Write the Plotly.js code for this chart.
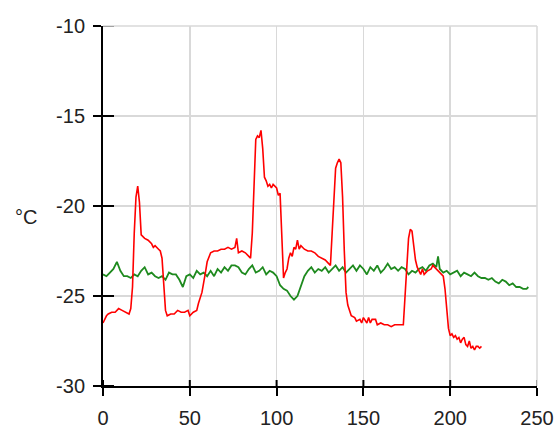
<!DOCTYPE html>
<html>
<head>
<meta charset="utf-8">
<script src="https://cdn.plot.ly/plotly-3.0.1.min.js"></script>
<style>html,body{margin:0;padding:0;background:#fff;}#chart{width:557px;height:429px;}</style>
</head>
<body>
<div id="chart"></div>
<script>
// Red series (time, temperature °C)
const redX = [0,1,2,3,5,7,9,11,13,15,16,17,18,19,20,21,22,24,26,28,29,30,32,33,34,35,36,37,39,41,43,45,47,49,50,52,54,55,57,59,60,62,64,66,68,70,72,74,76,77,78,80,82,84,85,86,87,88,89,90,91,92,93,94,95,96,97,98,100,101,102,103,104,105,106,107,108,109,110,111,112,113,114,116,118,120,122,124,126,128,130,131,132,133,134,135,136,137,138,139,140,141,142,143,145,146,148,149,150,152,153,154,155,157,158,160,162,164,166,168,170,172,173,174,175,176,177,178,179,180,181,182,183,184,185,187,189,190,191,193,195,196,197,198,199,200,201,202,203,204,205,206,207,208,209,210,211,212,213,214,215,216,217,218];
const redY = [-26.5,-26.3,-26.1,-26.0,-25.9,-25.9,-25.7,-25.8,-25.9,-26.0,-25.7,-24.5,-21.5,-19.5,-18.9,-19.8,-21.6,-21.8,-21.9,-22.1,-22.3,-22.2,-22.4,-22.5,-22.9,-24.2,-25.8,-26.1,-26.0,-26.0,-25.8,-25.9,-25.9,-25.8,-26.1,-25.9,-25.8,-25.4,-24.8,-23.7,-23.1,-22.6,-22.5,-22.5,-22.4,-22.4,-22.3,-22.4,-22.3,-21.8,-22.6,-22.5,-22.6,-22.8,-22.9,-21.5,-18.5,-16.3,-16.1,-16.2,-15.8,-16.8,-18.4,-18.6,-18.9,-18.8,-19.0,-18.8,-19.0,-19.4,-19.3,-22.0,-24.0,-23.7,-23.5,-22.9,-22.6,-22.8,-22.3,-22.4,-21.9,-22.4,-22.2,-22.4,-22.5,-22.5,-22.6,-22.8,-22.9,-23.0,-23.2,-23.3,-21.5,-19.5,-17.9,-17.6,-17.4,-17.6,-19.5,-22.5,-24.8,-25.5,-25.8,-26.1,-26.2,-26.4,-26.3,-26.5,-26.2,-26.5,-26.2,-26.5,-26.3,-26.3,-26.6,-26.5,-26.6,-26.6,-26.7,-26.6,-26.6,-26.6,-26.6,-25.0,-23.0,-21.8,-21.3,-21.4,-22.2,-23.0,-23.4,-23.6,-23.8,-23.5,-23.8,-23.6,-23.5,-23.3,-23.4,-23.6,-23.8,-23.9,-24.6,-25.8,-26.8,-27.2,-27.1,-27.3,-27.2,-27.4,-27.3,-27.6,-27.4,-27.3,-27.7,-27.8,-27.5,-27.9,-27.8,-28.0,-27.8,-27.8,-27.9,-27.8];

// Green series
const greenX = [0,2,4,6,8,10,12,14,16,18,20,22,24,26,28,30,32,34,36,38,40,42,44,46,48,50,52,54,56,58,60,62,64,66,68,70,72,74,76,78,80,82,84,86,88,90,92,94,96,98,100,102,104,106,108,110,112,114,116,118,120,122,124,126,128,130,132,134,136,138,140,142,144,146,148,150,152,154,156,158,160,162,164,166,168,170,172,174,176,178,180,182,184,186,188,190,192,193,194,196,198,200,202,204,206,208,210,212,214,216,218,220,222,224,226,228,230,232,234,236,238,240,242,244,245];
const greenY = [-23.8,-23.9,-23.7,-23.5,-23.1,-23.6,-23.9,-23.9,-24.0,-23.8,-23.9,-23.6,-23.4,-23.8,-23.7,-23.9,-24.0,-23.9,-24.1,-23.7,-23.8,-23.8,-24.1,-24.5,-23.9,-23.8,-24.0,-23.6,-23.8,-23.7,-23.9,-23.6,-23.9,-23.5,-23.7,-23.4,-23.6,-23.3,-23.3,-23.4,-23.7,-23.8,-23.5,-23.3,-23.7,-23.6,-23.4,-23.8,-23.6,-23.7,-23.9,-24.4,-24.6,-24.7,-25.0,-25.2,-25.0,-24.5,-23.9,-23.6,-23.4,-23.7,-23.5,-23.6,-23.4,-23.7,-23.5,-23.3,-23.6,-23.4,-23.7,-23.5,-23.3,-23.6,-23.3,-23.5,-23.8,-23.4,-23.6,-23.3,-23.7,-23.5,-23.2,-23.5,-23.4,-23.6,-23.4,-23.5,-23.8,-23.6,-23.7,-23.5,-23.4,-23.6,-23.3,-23.2,-23.4,-22.8,-23.5,-23.7,-23.6,-23.8,-23.7,-23.6,-23.9,-23.7,-23.8,-23.9,-23.7,-23.9,-24.0,-24.0,-24.1,-24.0,-24.2,-24.3,-24.1,-24.2,-24.4,-24.3,-24.5,-24.5,-24.6,-24.6,-24.5];

const xTicks = [0,50,100,150,200,250];
const yTicks = [-30,-25,-20,-15,-10];
const yUnit = '°C';

const W = 557, H = 429, M = {l: 103, r: 20, t: 26, b: 43};
const xRange = [0, 250], yRange = [-30, -10];
const plotW = W - M.l - M.r, plotH = H - M.t - M.b;
const xPerPx = (xRange[1] - xRange[0]) / plotW;
const yPerPx = (yRange[1] - yRange[0]) / plotH;

const tickFont = {family: 'Liberation Sans, Arial, sans-serif', size: 20, color: '#222'};

// Inner halves of the crossing ticks (outer halves come from the axes)
const tkX = [], tkY = [];
xTicks.forEach(v => { tkX.push(v, v, null); tkY.push(yRange[0], yRange[0] + 6 * yPerPx, null); });
yTicks.forEach(v => { tkX.push(xRange[0], xRange[0] + 11 * xPerPx, null); tkY.push(v, v, null); });

const traces = [
  {x: greenX, y: greenY, type: 'scatter', mode: 'lines', line: {color: '#1e8a1e', width: 1.8}, hoverinfo: 'skip', showlegend: false},
  {x: redX, y: redY, type: 'scatter', mode: 'lines', line: {color: '#ff0000', width: 1.6}, hoverinfo: 'skip', showlegend: false},
  {x: tkX, y: tkY, type: 'scatter', mode: 'lines', connectgaps: false, cliponaxis: false, line: {color: '#000', width: 2}, hoverinfo: 'skip', showlegend: false}
];

const layout = {
  width: W, height: H,
  margin: {l: M.l, r: M.r, t: M.t, b: M.b, pad: 0},
  paper_bgcolor: '#fff', plot_bgcolor: '#fff',
  showlegend: false,
  xaxis: {
    range: xRange, tickvals: xTicks, ticktext: xTicks.map(String),
    showgrid: true, gridcolor: '#d9d9d9', gridwidth: 1.5,
    zeroline: false, showline: true, linecolor: '#000', linewidth: 2,
    ticks: 'outside', ticklen: 8, tickwidth: 2, tickcolor: '#000',
    ticklabelstandoff: 5, tickfont: tickFont, fixedrange: true
  },
  yaxis: {
    range: yRange, tickvals: yTicks, ticktext: yTicks.map(String),
    showgrid: true, gridcolor: '#d9d9d9', gridwidth: 1.5,
    zeroline: false, showline: true, linecolor: '#000', linewidth: 2,
    ticks: 'outside', ticklen: 8, tickwidth: 2, tickcolor: '#000',
    ticklabelstandoff: 4, tickfont: tickFont, fixedrange: true
  },
  shapes: [
    {type: 'line', xref: 'paper', yref: 'paper', x0: 0, x1: 1, y0: 1, y1: 1, line: {color: '#d9d9d9', width: 1.5}},
    {type: 'line', xref: 'paper', yref: 'paper', x0: 1, x1: 1, y0: 0, y1: 1, line: {color: '#d9d9d9', width: 1.5}}
  ],
  annotations: [
    {text: yUnit, xref: 'paper', yref: 'paper', x: -0.178, y: 0.47, xanchor: 'center', yanchor: 'middle', showarrow: false, font: tickFont}
  ]
};

Plotly.newPlot('chart', traces, layout, {staticPlot: true, displayModeBar: false});
</script>
</body>
</html>
